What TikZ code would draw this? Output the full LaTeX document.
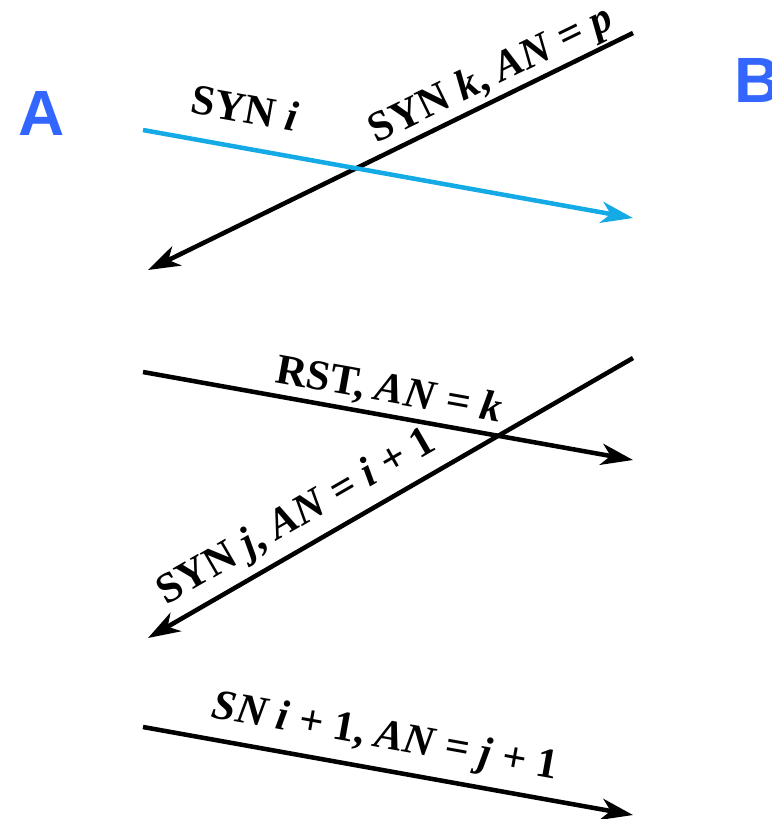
\documentclass[tikz,border=0pt]{standalone}
\usepackage{fontspec}
\setmainfont{Liberation Serif}
\newfontfamily\hostfont{Liberation Sans}
\usetikzlibrary{arrows.meta}
\definecolor{synblue}{RGB}{20,170,230}
\definecolor{hostblue}{RGB}{51,102,255}

\begin{document}
\begin{tikzpicture}[
    x=0.75pt, y=-0.75pt,
    msg/.style={-{Stealth[length=24pt, width=16pt, inset=7pt]}, line width=3.4pt},
    host/.style={font=\hostfont\bfseries\fontsize{48}{48}\selectfont, text=hostblue},
    label/.style={font=\bfseries\fontsize{32}{32}\selectfont, inner sep=0pt}
]
\useasboundingbox (0,0) rectangle (772,819);

% Hosts
\node[host] (hostA) at (42,113) {A};
\node[host] (hostB) at (758,80) {B};

% End points of the segments
\coordinate (a1) at (143,130);
\coordinate (b1) at (633,218);
\coordinate (b2) at (633,33);
\coordinate (a2) at (148,270);
\coordinate (a3) at (143,372);
\coordinate (b3) at (633,460);
\coordinate (b4) at (633,358);
\coordinate (a4) at (148,638);
\coordinate (a5) at (143,727);
\coordinate (b5) at (633,815);

% Simultaneous open
\draw[msg] (b2) -- (a2);
\draw[msg, synblue] (a1) -- (b1);
\node[label, rotate=-10.2] (synI) at (245,108) {SYN \textit{i}};
\node[label, rotate=26] (synK) at (492,76) {SYN \textit{k}, \textit{AN} = \textit{p}};

% Reset and new SYN
\draw[msg] (a3) -- (b3);
\draw[msg] (b4) -- (a4);
\node[label, rotate=-10.2] (rst) at (389,391) {RST, \textit{AN} = \textit{k}};
\node[label, rotate=30] (synJ) at (297,518) {SYN \textit{j}, \textit{AN} = \textit{i} + 1};

% Acknowledgement
\draw[msg] (a5) -- (b5);
\node[label, rotate=-10.2] (sn) at (385,738) {\textit{SN i} + 1, \textit{AN} = \textit{j} + 1};

\end{tikzpicture}
\end{document}
